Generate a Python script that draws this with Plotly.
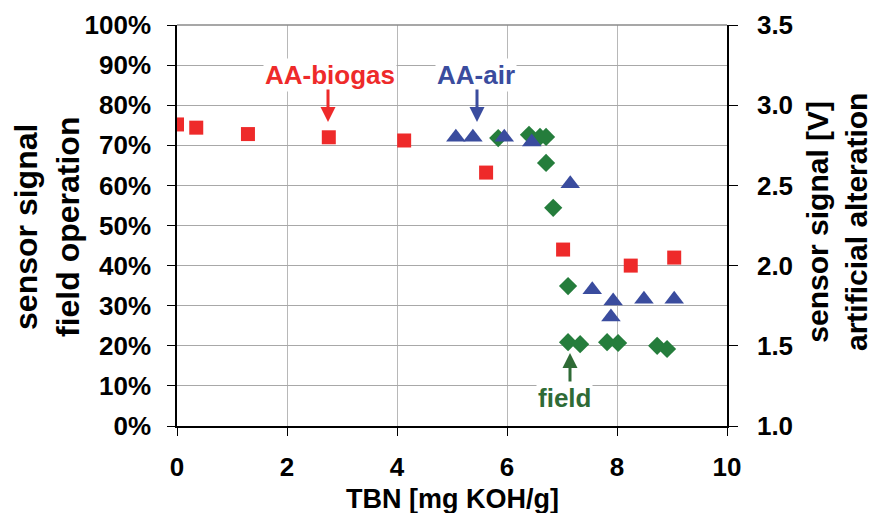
import plotly.graph_objects as go

# AA-biogas (right axis, V)
biogas_x = [0.0, 0.35, 1.29, 2.76, 4.13, 5.62, 7.02, 8.25, 9.04]
biogas_v = [2.88, 2.86, 2.82, 2.80, 2.78, 2.58, 2.10, 2.00, 2.05]

# AA-air (right axis, V)
air_x = [5.07, 5.38, 5.95, 6.45, 7.15, 7.55, 7.93, 7.89, 8.49, 9.04]
air_v = [2.80, 2.80, 2.80, 2.77, 2.51, 1.85, 1.78, 1.68, 1.79, 1.79]

# field (left axis, %)
field_x = [5.84, 6.40, 6.60, 6.71, 6.71, 6.84, 7.11, 7.11, 7.33, 7.82, 8.02, 8.73, 8.91]
field_p = [71.8, 72.6, 72.1, 72.1, 65.6, 54.4, 34.9, 20.9, 20.4, 20.9, 20.7, 20.0, 19.2]

x_ticks = [0, 2, 4, 6, 8, 10]
left_ticks = list(range(0, 101, 10))
left_labels = [f"{v}%" for v in left_ticks]
right_ticks = [1.0, 1.5, 2.0, 2.5, 3.0, 3.5]
right_labels = ["1.0", "1.5", "2.0", "2.5", "3.0", "3.5"]

RED = "#EE2A2A"
BLUE = "#3A4C9E"
GREEN = "#257D3C"
DKGREEN = "#2F6B36"
FONT = "Liberation Sans, Arial, sans-serif"

# page body has an 8px margin -> compensate
W, H = 869, 505
ML, MT, PW, PH = 169, 17, 550, 401


def px_x(p):
    return (p - 177) / PW


def px_y(p):
    return (426 - p) / PH


fig = go.Figure()
fig.add_trace(go.Scatter(x=field_x, y=field_p, mode="markers", name="field",
                         marker=dict(symbol="diamond", size=14, color=GREEN), yaxis="y"))
fig.add_trace(go.Scatter(x=biogas_x, y=biogas_v, mode="markers", name="AA-biogas",
                         marker=dict(symbol="square", size=14, color=RED), yaxis="y2"))
fig.add_trace(go.Scatter(x=air_x, y=air_v, mode="markers", name="AA-air",
                         marker=dict(symbol="triangle-up", size=17, color=BLUE), yaxis="y2"))

tickfont = dict(family=FONT, size=26, color="black", weight="bold")

fig.update_layout(
    width=W, height=H,
    margin=dict(l=ML, r=W - ML - PW, t=MT, b=H - MT - PH, autoexpand=False),
    paper_bgcolor="white", plot_bgcolor="white",
    showlegend=False,
    font=dict(family=FONT),
    xaxis=dict(range=[0, 10], tickvals=x_ticks, ticktext=[str(v) for v in x_ticks],
               tickfont=tickfont, showgrid=True, gridcolor="#B8B8B8", gridwidth=1,
               showline=True, linecolor="black", linewidth=1.5,
               ticks="outside", ticklen=8, tickcolor="black", zeroline=False,
               ticklabelstandoff=9, automargin=False),
    yaxis=dict(range=[0, 100], tickvals=left_ticks, ticktext=left_labels,
               tickfont=tickfont, showgrid=True, gridcolor="#A8A8A8", gridwidth=1,
               showline=True, linecolor="black", linewidth=1.5,
               ticks="outside", ticklen=8, tickcolor="black", zeroline=False,
               ticklabelstandoff=11, automargin=False),
    yaxis2=dict(range=[1.0, 3.5], tickvals=right_ticks, ticktext=right_labels,
                tickfont=tickfont, overlaying="y", side="right", showgrid=False,
                showline=True, linecolor="black", linewidth=1.5,
                ticks="outside", ticklen=9, tickcolor="black", zeroline=False,
                ticklabelstandoff=14, automargin=False),
)

# top border
fig.add_shape(type="line", xref="paper", yref="paper", x0=0, x1=1, y0=1, y1=1,
              line=dict(color="#8A8A8A", width=1.5))

# axis titles
fig.add_annotation(xref="paper", yref="paper", x=px_x(47), y=px_y(227), textangle=-90,
                   text="sensor signal<br>field operation", showarrow=False,
                   font=dict(family=FONT, size=32, color="black", weight="bold"),
                   xanchor="center", yanchor="middle")
fig.add_annotation(xref="paper", yref="paper", x=px_x(837), y=px_y(222), textangle=-90,
                   text="sensor signal [V]<br>artificial alteration", showarrow=False,
                   font=dict(family=FONT, size=30, color="black", weight="bold"),
                   xanchor="center", yanchor="middle")
fig.add_annotation(xref="paper", yref="paper", x=px_x(452), y=px_y(499),
                   text="TBN [mg KOH/g]", showarrow=False,
                   font=dict(family=FONT, size=27, color="black", weight="bold"),
                   xanchor="center", yanchor="middle")

# label texts
lab_font = dict(family=FONT, size=26, weight="bold")
fig.add_annotation(xref="paper", yref="paper", x=px_x(330), y=px_y(75), text="AA-biogas",
                   showarrow=False, font=dict(lab_font, color=RED), bgcolor="white",
                   xanchor="center", yanchor="middle", borderpad=1)
fig.add_annotation(xref="paper", yref="paper", x=px_x(476), y=px_y(75), text="AA-air",
                   showarrow=False, font=dict(lab_font, color=BLUE), bgcolor="white",
                   xanchor="center", yanchor="middle", borderpad=1)
fig.add_annotation(xref="paper", yref="paper", x=px_x(564.5), y=px_y(398), text="field",
                   showarrow=False, font=dict(lab_font, color=DKGREEN), bgcolor="white",
                   xanchor="center", yanchor="middle", borderpad=1)

# arrows
fig.add_annotation(xref="paper", yref="paper", x=px_x(328), y=px_y(122), ax=0, ay=-34, text="",
                   showarrow=True, arrowhead=2, arrowsize=1, arrowwidth=3, arrowcolor=RED)
fig.add_annotation(xref="paper", yref="paper", x=px_x(477), y=px_y(122), ax=0, ay=-34, text="",
                   showarrow=True, arrowhead=2, arrowsize=1, arrowwidth=3, arrowcolor=BLUE)
fig.add_annotation(xref="paper", yref="paper", x=px_x(570), y=px_y(353), ax=0, ay=30, text="",
                   showarrow=True, arrowhead=2, arrowsize=1, arrowwidth=3, arrowcolor=DKGREEN)

fig.write_html("out.html")
